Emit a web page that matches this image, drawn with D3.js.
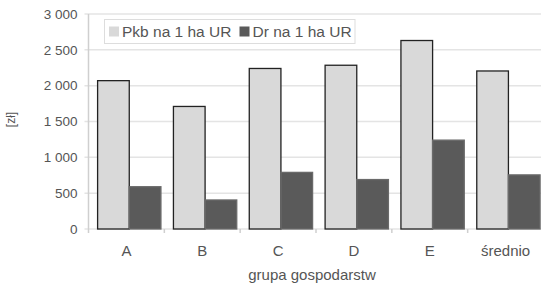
<!DOCTYPE html>
<html>
<head>
<meta charset="utf-8">
<script src="https://cdn.jsdelivr.net/npm/d3@7"></script>
<style>
  body { margin: 0; background: #fff; }
  text { font-family: "Liberation Sans", Arial, sans-serif; }
</style>
</head>
<body>
<svg></svg>
<script>
const categories = ["A", "B", "C", "D", "E", "średnio"];
const seriesNames = ["Pkb na 1 ha UR", "Dr na 1 ha UR"];
const pkbValues = [2070, 1710, 2240, 2285, 2630, 2205];
const drValues = [590, 405, 790, 690, 1240, 755];
const yTicks = [0, 500, 1000, 1500, 2000, 2500, 3000];

const svg = d3.select("svg").attr("width", 541).attr("height", 286);

const margin = { left: 88.5, right: -2.5, top: 14, bottom: 57 };
const width = 541 - margin.left - margin.right;
const height = 286 - margin.top - margin.bottom;

const colors = ["#d9d9d9", "#5a5a5a"];
const strokes = ["#222", "#6a6a6a"];

const data = categories.map((c, i) => ({ cat: c, values: [pkbValues[i], drValues[i]] }));

const x = d3.scaleBand().domain(categories).range([0, width]);
const y = d3.scaleLinear().domain([0, 3000]).range([height, 0]);

const bw = x.bandwidth();
const x1 = d3.scaleBand().domain([0, 1]).range([bw * 0.12, bw * 0.955]);

const g = svg.append("g").attr("transform", `translate(${margin.left}, ${margin.top})`);

// siatka
g.append("g")
  .selectAll("line")
  .data(yTicks)
  .enter()
  .append("line")
  .attr("x1", -4)
  .attr("x2", width)
  .attr("y1", (d) => y(d))
  .attr("y2", (d) => y(d))
  .attr("stroke", "#e4e4e4")
  .attr("stroke-width", 1.5);

const yAxis = d3.axisLeft(y).tickValues(yTicks).tickSize(0).tickPadding(11)
  .tickFormat((d) => d3.format(",")(d).replace(",", " "));
const yAxisG = g.append("g").call(yAxis);
yAxisG.select(".domain").remove();
yAxisG.selectAll("text").attr("font-size", 13.5).attr("fill", "#555");

g.append("line")
  .attr("x1", 0).attr("x2", 0)
  .attr("y1", 0).attr("y2", height + 4)
  .attr("stroke", "#cfcfcf").attr("stroke-width", 1.5);

const xAxis = d3.axisBottom(x).tickSize(0).tickPadding(15);
const xAxisG = g.append("g").attr("transform", `translate(0, ${height})`).call(xAxis);
xAxisG.select(".domain").remove();
xAxisG.selectAll("text")
  .attr("font-size", 15)
  .attr("fill", "#555")
  .attr("dy", null)
  .attr("y", 27);

// kreski podziału kategorii
g.append("g")
  .selectAll("line")
  .data(categories)
  .enter()
  .append("line")
  .attr("x1", (d) => x(d) + bw)
  .attr("x2", (d) => x(d) + bw)
  .attr("y1", height)
  .attr("y2", height + 4)
  .attr("stroke", "#cfcfcf")
  .attr("stroke-width", 1.5);

const groups = g.selectAll(".grp")
  .data(data)
  .enter()
  .append("g")
  .attr("class", "grp")
  .attr("transform", (d) => `translate(${x(d.cat)}, 0)`);

groups.selectAll("rect")
  .data((d) => d.values.map((v, i) => ({ v, i })))
  .enter()
  .append("rect")
  .attr("x", (d) => x1(d.i))
  .attr("width", x1.bandwidth())
  .attr("y", (d) => y(d.v))
  .attr("height", (d) => height - y(d.v))
  .attr("fill", (d) => colors[d.i])
  .attr("stroke", (d) => strokes[d.i])
  .attr("stroke-width", 1.3);

// legenda
const legend = svg.append("g");
legend.append("rect")
  .attr("x", 104.5).attr("y", 19.5)
  .attr("width", 250.5).attr("height", 24)
  .attr("fill", "#fff").attr("stroke", "#ddd");

const legendX = [109, 239.5];
seriesNames.forEach((name, i) => {
  legend.append("rect")
    .attr("x", legendX[i]).attr("y", 26.5)
    .attr("width", 10).attr("height", 10)
    .attr("fill", colors[i]);
  legend.append("text")
    .attr("x", legendX[i] + 13).attr("y", 37.3)
    .attr("font-size", 15.5).attr("fill", "#555")
    .text(name);
});

svg.append("text")
  .attr("transform", "rotate(-90)")
  .attr("x", -119.5).attr("y", 14.5)
  .attr("text-anchor", "middle")
  .attr("font-size", 12).attr("fill", "#555")
  .text("[zł]");

svg.append("text")
  .attr("x", 312).attr("y", 280)
  .attr("text-anchor", "middle")
  .attr("font-size", 15).attr("fill", "#555")
  .text("grupa gospodarstw");
</script>
</body>
</html>
